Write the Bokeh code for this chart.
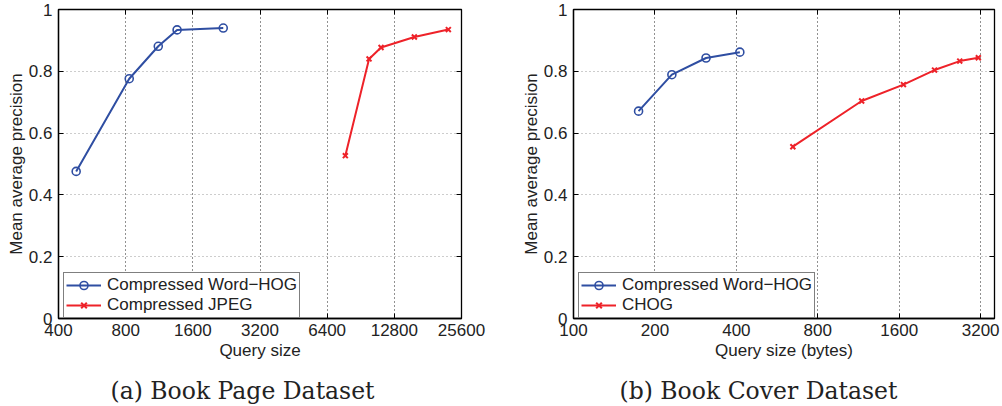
from bokeh.plotting import figure
from bokeh.models import FixedTicker, Legend, LegendItem, Label, Range1d, LinearAxis
from bokeh.layouts import row, column
from bokeh.embed import file_html
from bokeh.resources import INLINE

# ---- data ----
bp_xticks = [400, 800, 1600, 3200, 6400, 12800, 25600]
bp_xtick_labels = ["400", "800", "1600", "3200", "6400", "12800", "25600"]
bc_xticks = [100, 200, 400, 800, 1600, 3200]
bc_xtick_labels = ["100", "200", "400", "800", "1600", "3200"]
yticks = [0, 0.2, 0.4, 0.6, 0.8, 1]
ytick_labels = ["0", "0.2", "0.4", "0.6", "0.8", "1"]

bp_whog_size = [480, 830, 1120, 1360, 2190]
bp_whog_map = [0.476, 0.776, 0.881, 0.934, 0.940]
bp_jpeg_size = [7720, 9860, 11160, 15740, 22350]
bp_jpeg_map = [0.527, 0.840, 0.877, 0.911, 0.935]

bc_whog_size = [174, 231, 309, 412]
bc_whog_map = [0.671, 0.789, 0.843, 0.862]
bc_chog_size = [647, 1162, 1658, 2161, 2678, 3137]
bc_chog_map = [0.556, 0.704, 0.757, 0.804, 0.833, 0.844]

BLUE = "#2F4EA2"
RED = "#EE2229"
SANS = "Liberation Sans"
SERIF = "DejaVu Serif"
TXT = "#222222"
MAIN_H = 370
CAP_H = 36


def box_axis(ticks):
    # tick marks only (mirror ticks on top / right, MATLAB "box on")
    return LinearAxis(ticker=FixedTicker(ticks=ticks), major_tick_in=5, major_tick_out=0,
                      minor_tick_line_color=None, axis_line_color=None,
                      major_tick_line_color="black", major_label_standoff=0,
                      major_label_text_font_size="1px", major_label_text_color=None)


def make_panel(width, border_left, border_right, xr, xticks, xlabels, xlabel,
               s1, m1, n1, s2, m2, n2):
    p = figure(width=width, height=MAIN_H, x_axis_type="log",
               x_range=Range1d(*xr), y_range=Range1d(0, 1),
               output_backend="svg", toolbar_location=None,
               min_border_left=border_left, min_border_right=border_right,
               min_border_top=9, min_border_bottom=MAIN_H - 9 - 309)
    p.outline_line_color = "black"
    p.outline_line_width = 1.3
    p.background_fill_color = "white"
    p.border_fill_color = "white"

    p.xaxis.ticker = FixedTicker(ticks=xticks)
    p.yaxis.ticker = FixedTicker(ticks=yticks)
    p.xaxis.major_label_overrides = {t: l for t, l in zip(xticks, xlabels)}
    p.yaxis.major_label_overrides = {t: l for t, l in zip(yticks, ytick_labels)}
    for ax in (p.xaxis[0], p.yaxis[0]):
        ax.major_tick_in = 5
        ax.major_tick_out = 0
        ax.minor_tick_line_color = None
        ax.axis_line_color = "black"
        ax.axis_line_width = 1.3
        ax.major_tick_line_color = "black"
        ax.major_label_text_font = SANS
        ax.major_label_text_font_size = "17px"
        ax.major_label_text_color = TXT
        ax.axis_label_text_font = SANS
        ax.axis_label_text_font_size = "17px"
        ax.axis_label_text_font_style = "normal"
        ax.axis_label_text_color = TXT
    p.xaxis.major_label_standoff = 5
    p.yaxis.major_label_standoff = 6
    p.xaxis.axis_label = xlabel
    p.xaxis.axis_label_standoff = 2
    p.yaxis.axis_label = "Mean average precision"
    p.yaxis.axis_label_standoff = 0

    p.add_layout(box_axis(xticks), "above")
    p.add_layout(box_axis(yticks), "right")

    p.xgrid.grid_line_color = "#222222"
    p.xgrid.grid_line_dash = "1 3"
    p.xgrid.grid_line_width = 1
    p.ygrid.grid_line_color = "#9a9a9a"
    p.ygrid.grid_line_dash = "1 3"
    p.ygrid.grid_line_width = 1

    l1 = p.line(s1, m1, line_color=BLUE, line_width=2)
    c1 = p.scatter(s1, m1, marker="circle", size=8, line_color=BLUE, line_width=1.6,
                   fill_color=None)
    l2 = p.line(s2, m2, line_color=RED, line_width=2)
    c2 = p.scatter(s2, m2, marker="x", size=7, line_color=RED, line_width=2)

    legend = Legend(items=[LegendItem(label=n1, renderers=[l1, c1]),
                           LegendItem(label=n2, renderers=[l2, c2])],
                    location=(5, 0), orientation="vertical")
    legend.border_line_color = "black"
    legend.border_line_width = 1
    legend.background_fill_alpha = 1
    legend.label_text_font = SANS
    legend.label_text_font_size = "17px"
    legend.label_text_color = TXT
    legend.glyph_width = 35
    legend.glyph_height = 20
    legend.label_height = 20
    legend.label_standoff = 6
    legend.padding = 2
    legend.spacing = 0
    legend.margin = 0
    p.add_layout(legend, "center")
    return p


def make_caption(width, caption, x_left):
    c = figure(width=width, height=CAP_H, x_range=Range1d(0, 1), y_range=Range1d(0, 1),
               output_backend="svg", toolbar_location=None,
               x_axis_location=None, y_axis_location=None, min_border=0)
    c.outline_line_color = None
    c.xgrid.visible = False
    c.ygrid.visible = False
    c.add_layout(Label(x=x_left, y=16, x_units="screen", y_units="screen",
                       text=caption, text_font=SERIF, text_font_size="23.5px",
                       text_color="#222222", text_align="left", text_baseline="middle"))
    return c


p1 = make_panel(496, 58, 35, (400, 25600), bp_xticks, bp_xtick_labels, "Query size",
                bp_whog_size, bp_whog_map, "Compressed Word\u2212HOG",
                bp_jpeg_size, bp_jpeg_map, "Compressed JPEG")
p2 = make_panel(504, 77, 6, (100, 3600), bc_xticks, bc_xtick_labels, "Query size (bytes)",
                bc_whog_size, bc_whog_map, "Compressed Word\u2212HOG",
                bc_chog_size, bc_chog_map, "CHOG")
cap1 = make_caption(496, "(a) Book Page Dataset", 110)
cap2 = make_caption(504, "(b) Book Cover Dataset", 123)

layout = column(row(p1, p2), row(cap1, cap2))
open("out.html", "w").write(file_html(layout, INLINE))
